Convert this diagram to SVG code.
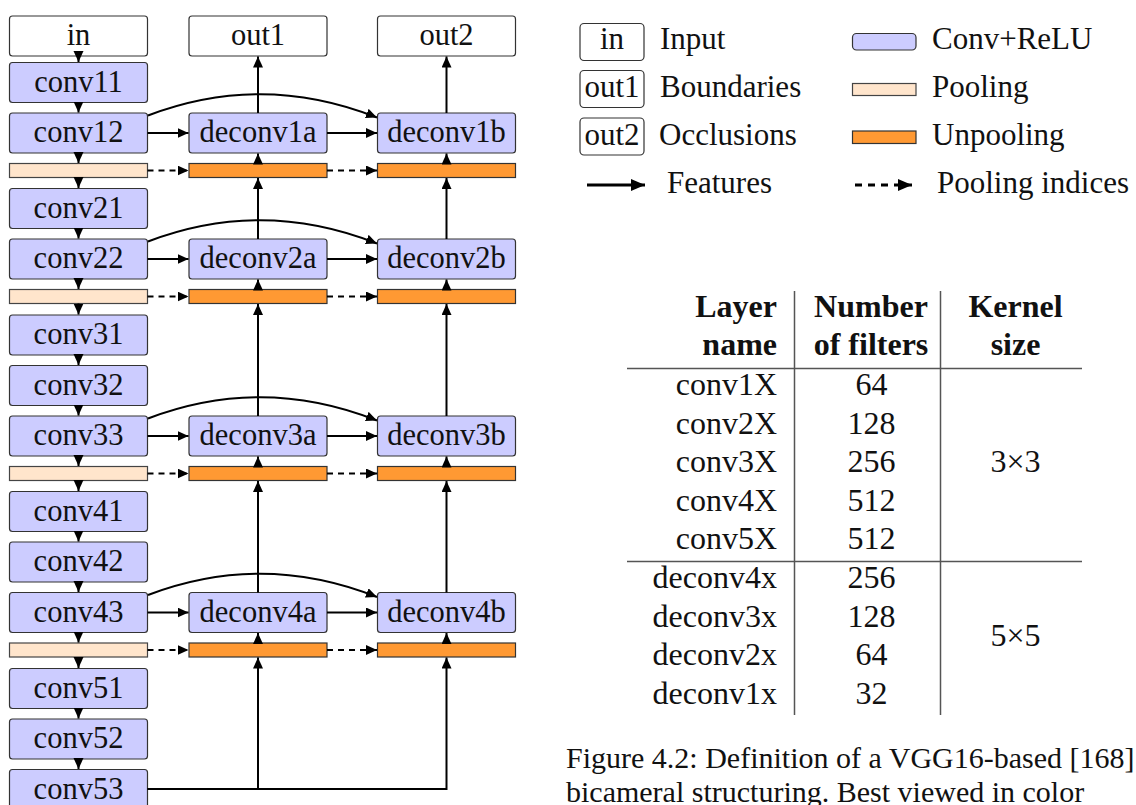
<svg xmlns="http://www.w3.org/2000/svg" width="1136" height="805" viewBox="0 0 1136 805">
<style>
text{font-family:"Liberation Serif","Times New Roman",serif;fill:#111;}
.lb{font-size:30.5px;text-anchor:middle;}
.lg{font-size:31px;}
.lgc{font-size:31px;text-anchor:middle;}
.tb{font-size:32px;}
.th{font-size:32px;font-weight:bold;}
.r{text-anchor:end;}
.m{text-anchor:middle;}
.cap{font-size:30px;}
.io{fill:#fff;stroke:#333;stroke-width:1.2;}
.conv{fill:#ccccff;stroke:#333;stroke-width:1.2;}
.pool{fill:#ffe5cc;stroke:#444;stroke-width:1.2;}
.unpool{fill:#ff9933;stroke:#333;stroke-width:1.2;}
.ln{fill:none;stroke:#000;stroke-width:2;marker-end:url(#ah);}
.dl{fill:none;stroke:#000;stroke-width:2;stroke-dasharray:6 5;marker-end:url(#ah);}
.lgl{fill:none;stroke:#000;stroke-width:3;marker-end:url(#ahb);}
.lgd{fill:none;stroke:#000;stroke-width:3;stroke-dasharray:7 6;marker-end:url(#ahb);}
.rule{stroke:#555;stroke-width:1.5;fill:none;}
</style>
<defs>
<marker id="ah" markerUnits="userSpaceOnUse" markerWidth="13" markerHeight="12" refX="11" refY="5" orient="auto">
<path d="M0,0 L11,5 L0,10 z" fill="#000"/>
</marker>
<marker id="ahb" markerUnits="userSpaceOnUse" markerWidth="16" markerHeight="14" refX="14" refY="6" orient="auto">
<path d="M0,0 L14,6 L0,12 z" fill="#000"/>
</marker>
</defs>

<!-- encoder column -->
<g id="in"><rect class="io" x="9.5" y="16" width="138" height="40" rx="3"/><text class="lb" x="78.5" y="45">in</text></g>
<g id="conv11"><rect class="conv" x="9.5" y="62.5" width="138" height="40" rx="3"/><text class="lb" x="78.5" y="91.5">conv11</text></g>
<g id="conv12"><rect class="conv" x="9.5" y="113" width="138" height="40" rx="3"/><text class="lb" x="78.5" y="142">conv12</text></g>
<g id="pool1"><rect class="pool" x="9.5" y="163.5" width="138" height="14"/></g>
<g id="conv21"><rect class="conv" x="9.5" y="188.5" width="138" height="40" rx="3"/><text class="lb" x="78.5" y="217.5">conv21</text></g>
<g id="conv22"><rect class="conv" x="9.5" y="239" width="138" height="40" rx="3"/><text class="lb" x="78.5" y="268">conv22</text></g>
<g id="pool2"><rect class="pool" x="9.5" y="289.5" width="138" height="14"/></g>
<g id="conv31"><rect class="conv" x="9.5" y="315" width="138" height="40" rx="3"/><text class="lb" x="78.5" y="344">conv31</text></g>
<g id="conv32"><rect class="conv" x="9.5" y="365.5" width="138" height="40" rx="3"/><text class="lb" x="78.5" y="394.5">conv32</text></g>
<g id="conv33"><rect class="conv" x="9.5" y="416" width="138" height="40" rx="3"/><text class="lb" x="78.5" y="445">conv33</text></g>
<g id="pool3"><rect class="pool" x="9.5" y="466.5" width="138" height="14"/></g>
<g id="conv41"><rect class="conv" x="9.5" y="491.5" width="138" height="40" rx="3"/><text class="lb" x="78.5" y="520.5">conv41</text></g>
<g id="conv42"><rect class="conv" x="9.5" y="542" width="138" height="40" rx="3"/><text class="lb" x="78.5" y="571">conv42</text></g>
<g id="conv43"><rect class="conv" x="9.5" y="592.5" width="138" height="40" rx="3"/><text class="lb" x="78.5" y="621.5">conv43</text></g>
<g id="pool4"><rect class="pool" x="9.5" y="643" width="138" height="14"/></g>
<g id="conv51"><rect class="conv" x="9.5" y="668.5" width="138" height="40" rx="3"/><text class="lb" x="78.5" y="697.5">conv51</text></g>
<g id="conv52"><rect class="conv" x="9.5" y="719" width="138" height="40" rx="3"/><text class="lb" x="78.5" y="748">conv52</text></g>
<g id="conv53"><rect class="conv" x="9.5" y="769.5" width="138" height="40" rx="3"/><text class="lb" x="78.5" y="798.5">conv53</text></g>

<!-- decoder a -->
<g id="out1"><rect class="io" x="189" y="16" width="138" height="40" rx="3"/><text class="lb" x="258" y="45">out1</text></g>
<g id="deconv1a"><rect class="conv" x="189" y="113" width="138" height="40" rx="3"/><text class="lb" x="258" y="142">deconv1a</text></g>
<g id="unpool1a"><rect class="unpool" x="189" y="163.5" width="138" height="14"/></g>
<g id="deconv2a"><rect class="conv" x="189" y="239" width="138" height="40" rx="3"/><text class="lb" x="258" y="268">deconv2a</text></g>
<g id="unpool2a"><rect class="unpool" x="189" y="289.5" width="138" height="14"/></g>
<g id="deconv3a"><rect class="conv" x="189" y="416" width="138" height="40" rx="3"/><text class="lb" x="258" y="445">deconv3a</text></g>
<g id="unpool3a"><rect class="unpool" x="189" y="466.5" width="138" height="14"/></g>
<g id="deconv4a"><rect class="conv" x="189" y="592.5" width="138" height="40" rx="3"/><text class="lb" x="258" y="621.5">deconv4a</text></g>
<g id="unpool4a"><rect class="unpool" x="189" y="643" width="138" height="14"/></g>

<!-- decoder b -->
<g id="out2"><rect class="io" x="377.5" y="16" width="138" height="40" rx="3"/><text class="lb" x="446.5" y="45">out2</text></g>
<g id="deconv1b"><rect class="conv" x="377.5" y="113" width="138" height="40" rx="3"/><text class="lb" x="446.5" y="142">deconv1b</text></g>
<g id="unpool1b"><rect class="unpool" x="377.5" y="163.5" width="138" height="14"/></g>
<g id="deconv2b"><rect class="conv" x="377.5" y="239" width="138" height="40" rx="3"/><text class="lb" x="446.5" y="268">deconv2b</text></g>
<g id="unpool2b"><rect class="unpool" x="377.5" y="289.5" width="138" height="14"/></g>
<g id="deconv3b"><rect class="conv" x="377.5" y="416" width="138" height="40" rx="3"/><text class="lb" x="446.5" y="445">deconv3b</text></g>
<g id="unpool3b"><rect class="unpool" x="377.5" y="466.5" width="138" height="14"/></g>
<g id="deconv4b"><rect class="conv" x="377.5" y="592.5" width="138" height="40" rx="3"/><text class="lb" x="446.5" y="621.5">deconv4b</text></g>
<g id="unpool4b"><rect class="unpool" x="377.5" y="643" width="138" height="14"/></g>

<g id="connectors">
<!-- encoder chain -->
<path class="ln" d="M78.5,56 V62"/>
<path class="ln" d="M78.5,102.5 V112.5"/>
<path class="ln" d="M78.5,153 V163"/>
<path class="ln" d="M78.5,177.5 V188"/>
<path class="ln" d="M78.5,228.5 V238.5"/>
<path class="ln" d="M78.5,279 V289"/>
<path class="ln" d="M78.5,303.5 V314.5"/>
<path class="ln" d="M78.5,355 V365"/>
<path class="ln" d="M78.5,405.5 V415.5"/>
<path class="ln" d="M78.5,456 V466"/>
<path class="ln" d="M78.5,480.5 V491"/>
<path class="ln" d="M78.5,531.5 V541.5"/>
<path class="ln" d="M78.5,582 V592"/>
<path class="ln" d="M78.5,632.5 V642.5"/>
<path class="ln" d="M78.5,657 V668"/>
<path class="ln" d="M78.5,708.5 V718.5"/>
<path class="ln" d="M78.5,759 V769"/>
<!-- level 1 -->
<path class="ln" d="M147.5,133 H188.5"/>
<path class="ln" d="M327,133 H377"/>
<path class="ln" d="M148,115.5 Q262,72 377,117.5"/>
<path class="dl" d="M147.5,170.5 H188.5"/>
<path class="dl" d="M327,170.5 H377"/>
<path class="ln" d="M258,163.5 V153.5"/>
<path class="ln" d="M446.5,163.5 V153.5"/>
<path class="ln" d="M258,113 V56.5"/>
<path class="ln" d="M446.5,113 V56.5"/>
<!-- level 2 -->
<path class="ln" d="M147.5,259 H188.5"/>
<path class="ln" d="M327,259 H377"/>
<path class="ln" d="M148,241.5 Q262,198 377,243.5"/>
<path class="dl" d="M147.5,296.5 H188.5"/>
<path class="dl" d="M327,296.5 H377"/>
<path class="ln" d="M258,289.5 V279.5"/>
<path class="ln" d="M446.5,289.5 V279.5"/>
<path class="ln" d="M258,239 V178"/>
<path class="ln" d="M446.5,239 V178"/>
<!-- level 3 -->
<path class="ln" d="M147.5,436 H188.5"/>
<path class="ln" d="M327,436 H377"/>
<path class="ln" d="M148,418.5 Q262,375 377,420.5"/>
<path class="dl" d="M147.5,473.5 H188.5"/>
<path class="dl" d="M327,473.5 H377"/>
<path class="ln" d="M258,466.5 V456.5"/>
<path class="ln" d="M446.5,466.5 V456.5"/>
<path class="ln" d="M258,416 V304"/>
<path class="ln" d="M446.5,416 V304"/>
<!-- level 4 -->
<path class="ln" d="M147.5,612.5 H188.5"/>
<path class="ln" d="M327,612.5 H377"/>
<path class="ln" d="M148,595 Q262,551.5 377,597"/>
<path class="dl" d="M147.5,650 H188.5"/>
<path class="dl" d="M327,650 H377"/>
<path class="ln" d="M258,643 V633"/>
<path class="ln" d="M446.5,643 V633"/>
<path class="ln" d="M258,592.5 V481"/>
<path class="ln" d="M446.5,592.5 V481"/>
<!-- bottleneck -->
<path class="ln" d="M147.5,789 H258 V657.5"/>
<path class="ln" d="M147.5,789 H446.5 V657.5"/>
</g>

<!-- legend -->
<g id="legend">
<rect class="io" x="580" y="23.5" width="64" height="37" rx="4"/><text class="lgc" x="612" y="49">in</text>
<text class="lg" x="660" y="49">Input</text>
<rect class="io" x="580" y="70.5" width="64" height="37" rx="4"/><text class="lgc" x="612" y="97">out1</text>
<text class="lg" x="660" y="97">Boundaries</text>
<rect class="io" x="580" y="118" width="64" height="37" rx="4"/><text class="lgc" x="612" y="144.5">out2</text>
<text class="lg" x="659" y="144.5">Occlusions</text>
<path class="lgl" d="M587,185 H645"/>
<text class="lg" x="667" y="193">Features</text>
<rect class="conv" x="852.5" y="33.5" width="63.5" height="16.5" rx="4"/>
<text class="lg" x="932" y="48.5">Conv+ReLU</text>
<rect class="pool" x="852.5" y="83.5" width="63.5" height="12"/>
<text class="lg" x="932" y="97">Pooling</text>
<rect class="unpool" x="852.5" y="131" width="63.5" height="12.5"/>
<text class="lg" x="932" y="144.5">Unpooling</text>
<path class="lgd" d="M855,185 H912"/>
<text class="lg" x="937" y="193">Pooling indices</text>
</g>

<!-- table -->
<g id="table">
<path class="rule" d="M794.5,291 V715 M940.5,291 V715 M627,368.5 H1082 M627,561.5 H1082"/>
<text class="th r" x="777" y="317">Layer</text>
<text class="th r" x="777" y="355">name</text>
<text class="th m" x="871" y="317">Number</text>
<text class="th m" x="871" y="355">of filters</text>
<text class="th m" x="1015.5" y="317">Kernel</text>
<text class="th m" x="1015.5" y="355">size</text>
<text class="tb r" x="777" y="395">conv1X</text><text class="tb m" x="871.5" y="395">64</text>
<text class="tb r" x="777" y="433.5">conv2X</text><text class="tb m" x="871.5" y="433.5">128</text>
<text class="tb r" x="777" y="472">conv3X</text><text class="tb m" x="871.5" y="472">256</text>
<text class="tb r" x="777" y="510.5">conv4X</text><text class="tb m" x="871.5" y="510.5">512</text>
<text class="tb r" x="777" y="549">conv5X</text><text class="tb m" x="871.5" y="549">512</text>
<text class="tb r" x="777" y="588">deconv4x</text><text class="tb m" x="871.5" y="588">256</text>
<text class="tb r" x="777" y="626.5">deconv3x</text><text class="tb m" x="871.5" y="626.5">128</text>
<text class="tb r" x="777" y="665">deconv2x</text><text class="tb m" x="871.5" y="665">64</text>
<text class="tb r" x="777" y="703.5">deconv1x</text><text class="tb m" x="871.5" y="703.5">32</text>
<text class="tb m" x="1015.5" y="472">3×3</text>
<text class="tb m" x="1015.5" y="646">5×5</text>
</g>

<!-- caption -->
<g id="caption">
<text class="cap" x="566" y="767.5">Figure 4.2: Definition of a VGG16-based [168]</text>
<text class="cap" x="566" y="801.5">bicameral structuring. Best viewed in color</text>
</g>
</svg>
